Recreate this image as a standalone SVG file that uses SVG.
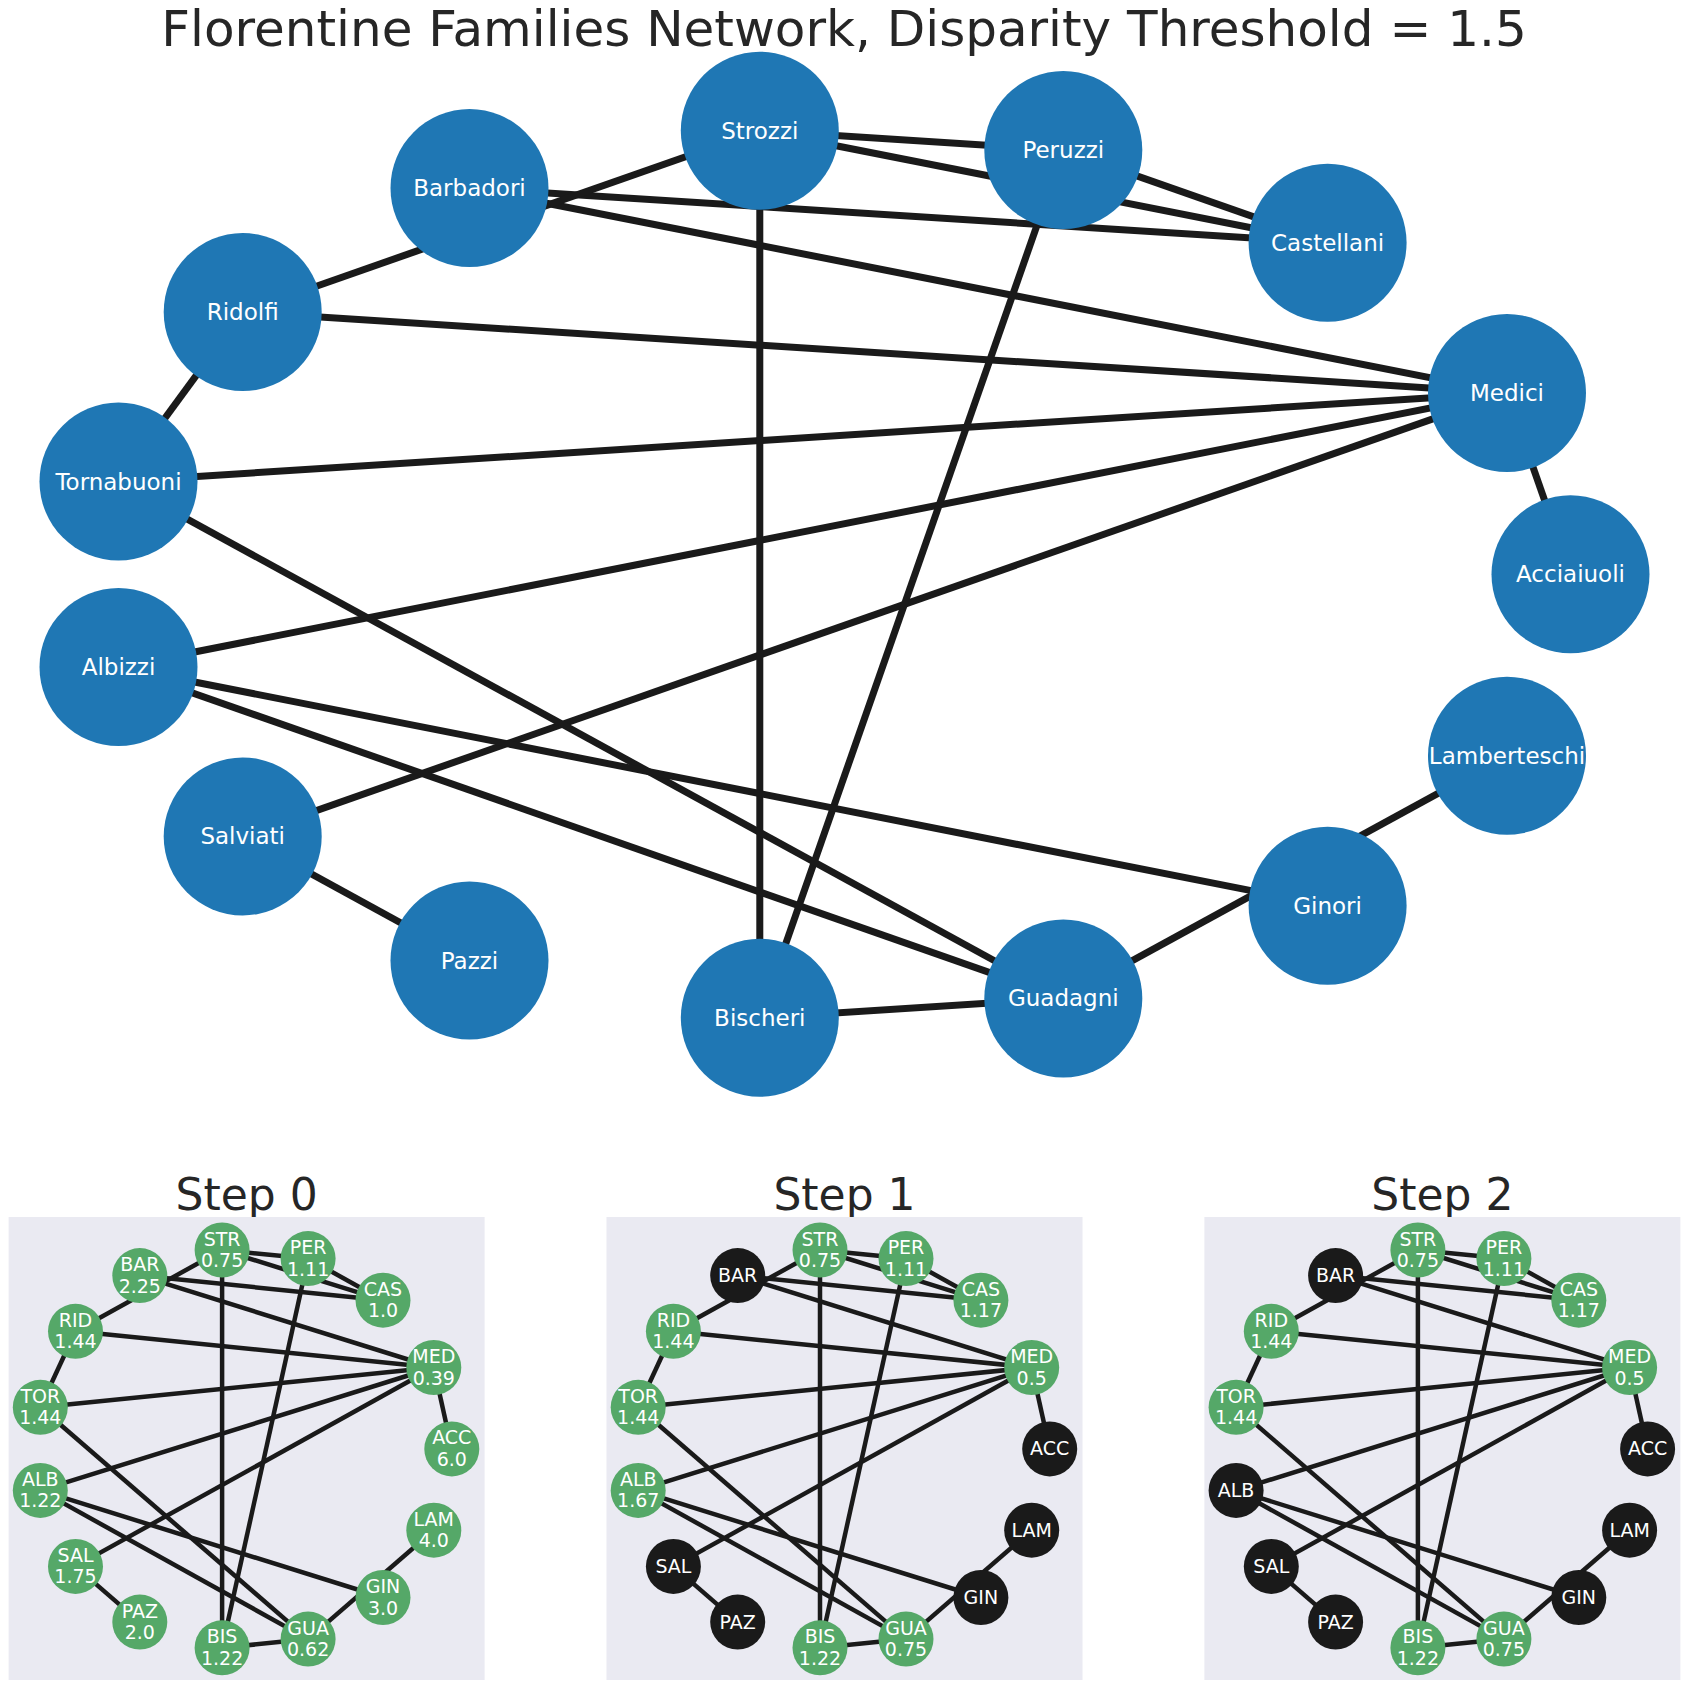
<svg xmlns="http://www.w3.org/2000/svg" width="1688" height="1689" viewBox="0 0 1688 1689">
<style>
text{font-family:"DejaVu Sans","Liberation Sans",sans-serif}
.title{font-size:50px;fill:#262626;text-anchor:middle}
.stitle{font-size:44px;fill:#262626;text-anchor:middle}
.me line{stroke:#1a1a1a;stroke-width:7}
.se line{stroke:#1a1a1a;stroke-width:4.5}
.mn circle{fill:#1f77b4}
.mn text{fill:#fff;font-size:23px;text-anchor:middle}
.g circle{fill:#55a868}
.k circle{fill:#1a1a1a}
.sn text{fill:#fff;font-size:19px;text-anchor:middle}
.ax{fill:#eaeaf2}
</style>
<rect width="1688" height="1689" fill="#fff"/>
<text class="title" x="844" y="46">Florentine Families Network, Disparity Threshold = 1.5</text>

<g id="main-edges" class="me">
<line x1="1570.5" y1="574.3" x2="1507" y2="392.9"/>
<line x1="1507" y1="392.9" x2="469.5" y2="188"/>
<line x1="1507" y1="392.9" x2="242.7" y2="312.1"/>
<line x1="1507" y1="392.9" x2="118.5" y2="481.5"/>
<line x1="1507" y1="392.9" x2="118.5" y2="667"/>
<line x1="1507" y1="392.9" x2="242.7" y2="836.4"/>
<line x1="1327.6" y1="242.8" x2="1063.3" y2="150.1"/>
<line x1="1327.6" y1="242.8" x2="759.8" y2="130.7"/>
<line x1="1327.6" y1="242.8" x2="469.5" y2="188"/>
<line x1="1063.3" y1="150.1" x2="759.8" y2="130.7"/>
<line x1="1063.3" y1="150.1" x2="759.8" y2="1017.8"/>
<line x1="759.8" y1="130.7" x2="242.7" y2="312.1"/>
<line x1="759.8" y1="130.7" x2="759.8" y2="1017.8"/>
<line x1="242.7" y1="312.1" x2="118.5" y2="481.5"/>
<line x1="118.5" y1="481.5" x2="1063.3" y2="998.4"/>
<line x1="118.5" y1="667" x2="1327.6" y2="905.7"/>
<line x1="118.5" y1="667" x2="1063.3" y2="998.4"/>
<line x1="242.7" y1="836.4" x2="469.5" y2="960.5"/>
<line x1="759.8" y1="1017.8" x2="1063.3" y2="998.4"/>
<line x1="1063.3" y1="998.4" x2="1507" y2="755.7"/>
</g>
<g class="mn">
<g id="Acciaiuoli"><circle cx="1570.5" cy="574.3" r="79"/><text x="1570.5" y="582.3">Acciaiuoli</text></g>
<g id="Medici"><circle cx="1507" cy="392.9" r="79"/><text x="1507" y="400.9">Medici</text></g>
<g id="Castellani"><circle cx="1327.6" cy="242.8" r="79"/><text x="1327.6" y="250.8">Castellani</text></g>
<g id="Peruzzi"><circle cx="1063.3" cy="150.1" r="79"/><text x="1063.3" y="158.1">Peruzzi</text></g>
<g id="Strozzi"><circle cx="759.8" cy="130.7" r="79"/><text x="759.8" y="138.7">Strozzi</text></g>
<g id="Barbadori"><circle cx="469.5" cy="188" r="79"/><text x="469.5" y="196">Barbadori</text></g>
<g id="Ridolfi"><circle cx="242.7" cy="312.1" r="79"/><text x="242.7" y="320.1">Ridolfi</text></g>
<g id="Tornabuoni"><circle cx="118.5" cy="481.5" r="79"/><text x="118.5" y="489.5">Tornabuoni</text></g>
<g id="Albizzi"><circle cx="118.5" cy="667" r="79"/><text x="118.5" y="675">Albizzi</text></g>
<g id="Salviati"><circle cx="242.7" cy="836.4" r="79"/><text x="242.7" y="844.4">Salviati</text></g>
<g id="Pazzi"><circle cx="469.5" cy="960.5" r="79"/><text x="469.5" y="968.5">Pazzi</text></g>
<g id="Bischeri"><circle cx="759.8" cy="1017.8" r="79"/><text x="759.8" y="1025.8">Bischeri</text></g>
<g id="Guadagni"><circle cx="1063.3" cy="998.4" r="79"/><text x="1063.3" y="1006.4">Guadagni</text></g>
<g id="Ginori"><circle cx="1327.6" cy="905.7" r="79"/><text x="1327.6" y="913.7">Ginori</text></g>
<g id="Lamberteschi"><circle cx="1507" cy="755.7" r="79"/><text x="1507" y="763.7">Lamberteschi</text></g>
</g>

<defs>
<g id="small-edges" class="se">
<line x1="451.8" y1="1448.9" x2="433.8" y2="1367.5"/>
<line x1="433.8" y1="1367.5" x2="139.8" y2="1275.6"/>
<line x1="433.8" y1="1367.5" x2="75.5" y2="1331.3"/>
<line x1="433.8" y1="1367.5" x2="40.3" y2="1407.3"/>
<line x1="433.8" y1="1367.5" x2="40.3" y2="1490.4"/>
<line x1="433.8" y1="1367.5" x2="75.5" y2="1566.4"/>
<line x1="383" y1="1300.2" x2="308.1" y2="1258.6"/>
<line x1="383" y1="1300.2" x2="222.1" y2="1250"/>
<line x1="383" y1="1300.2" x2="139.8" y2="1275.6"/>
<line x1="308.1" y1="1258.6" x2="222.1" y2="1250"/>
<line x1="308.1" y1="1258.6" x2="222.1" y2="1647.8"/>
<line x1="222.1" y1="1250" x2="75.5" y2="1331.3"/>
<line x1="222.1" y1="1250" x2="222.1" y2="1647.8"/>
<line x1="75.5" y1="1331.3" x2="40.3" y2="1407.3"/>
<line x1="40.3" y1="1407.3" x2="308.1" y2="1639.1"/>
<line x1="40.3" y1="1490.4" x2="383" y2="1597.5"/>
<line x1="40.3" y1="1490.4" x2="308.1" y2="1639.1"/>
<line x1="75.5" y1="1566.4" x2="139.8" y2="1622.1"/>
<line x1="222.1" y1="1647.8" x2="308.1" y2="1639.1"/>
<line x1="308.1" y1="1639.1" x2="433.8" y2="1530.2"/>
</g>
</defs>

<!-- Step 0 -->
<g id="step0">
<text class="stitle" x="246.6" y="1210">Step 0</text>
<rect class="ax" x="8.6" y="1217" width="476" height="463"/>
<g id="s0-connectors"><use href="#small-edges"/></g>
<g class="sn">
<g id="s0-ACC" class="g"><circle cx="451.8" cy="1448.9" r="27.5"/><text x="451.8" y="1444.4">ACC</text><text x="451.8" y="1465.9">6.0</text></g>
<g id="s0-MED" class="g"><circle cx="433.8" cy="1367.5" r="27.5"/><text x="433.8" y="1363">MED</text><text x="433.8" y="1384.5">0.39</text></g>
<g id="s0-CAS" class="g"><circle cx="383" cy="1300.2" r="27.5"/><text x="383" y="1295.7">CAS</text><text x="383" y="1317.2">1.0</text></g>
<g id="s0-PER" class="g"><circle cx="308.1" cy="1258.6" r="27.5"/><text x="308.1" y="1254.1">PER</text><text x="308.1" y="1275.6">1.11</text></g>
<g id="s0-STR" class="g"><circle cx="222.1" cy="1250" r="27.5"/><text x="222.1" y="1245.5">STR</text><text x="222.1" y="1267">0.75</text></g>
<g id="s0-BAR" class="g"><circle cx="139.8" cy="1275.6" r="27.5"/><text x="139.8" y="1271.1">BAR</text><text x="139.8" y="1292.6">2.25</text></g>
<g id="s0-RID" class="g"><circle cx="75.5" cy="1331.3" r="27.5"/><text x="75.5" y="1326.8">RID</text><text x="75.5" y="1348.3">1.44</text></g>
<g id="s0-TOR" class="g"><circle cx="40.3" cy="1407.3" r="27.5"/><text x="40.3" y="1402.8">TOR</text><text x="40.3" y="1424.3">1.44</text></g>
<g id="s0-ALB" class="g"><circle cx="40.3" cy="1490.4" r="27.5"/><text x="40.3" y="1485.9">ALB</text><text x="40.3" y="1507.4">1.22</text></g>
<g id="s0-SAL" class="g"><circle cx="75.5" cy="1566.4" r="27.5"/><text x="75.5" y="1561.9">SAL</text><text x="75.5" y="1583.4">1.75</text></g>
<g id="s0-PAZ" class="g"><circle cx="139.8" cy="1622.1" r="27.5"/><text x="139.8" y="1617.6">PAZ</text><text x="139.8" y="1639.1">2.0</text></g>
<g id="s0-BIS" class="g"><circle cx="222.1" cy="1647.8" r="27.5"/><text x="222.1" y="1643.3">BIS</text><text x="222.1" y="1664.8">1.22</text></g>
<g id="s0-GUA" class="g"><circle cx="308.1" cy="1639.1" r="27.5"/><text x="308.1" y="1634.6">GUA</text><text x="308.1" y="1656.1">0.62</text></g>
<g id="s0-GIN" class="g"><circle cx="383" cy="1597.5" r="27.5"/><text x="383" y="1593">GIN</text><text x="383" y="1614.5">3.0</text></g>
<g id="s0-LAM" class="g"><circle cx="433.8" cy="1530.2" r="27.5"/><text x="433.8" y="1525.7">LAM</text><text x="433.8" y="1547.2">4.0</text></g>
</g>
</g>

<!-- Step 1 -->
<g id="step1" transform="translate(597.9,0)">
<text class="stitle" x="246.6" y="1210">Step 1</text>
<rect class="ax" x="8.6" y="1217" width="476" height="463"/>
<g id="s1-connectors"><use href="#small-edges"/></g>
<g class="sn">
<g id="s1-ACC" class="k"><circle cx="451.8" cy="1448.9" r="27.5"/><text x="451.8" y="1455.4">ACC</text></g>
<g id="s1-MED" class="g"><circle cx="433.8" cy="1367.5" r="27.5"/><text x="433.8" y="1363">MED</text><text x="433.8" y="1384.5">0.5</text></g>
<g id="s1-CAS" class="g"><circle cx="383" cy="1300.2" r="27.5"/><text x="383" y="1295.7">CAS</text><text x="383" y="1317.2">1.17</text></g>
<g id="s1-PER" class="g"><circle cx="308.1" cy="1258.6" r="27.5"/><text x="308.1" y="1254.1">PER</text><text x="308.1" y="1275.6">1.11</text></g>
<g id="s1-STR" class="g"><circle cx="222.1" cy="1250" r="27.5"/><text x="222.1" y="1245.5">STR</text><text x="222.1" y="1267">0.75</text></g>
<g id="s1-BAR" class="k"><circle cx="139.8" cy="1275.6" r="27.5"/><text x="139.8" y="1282.1">BAR</text></g>
<g id="s1-RID" class="g"><circle cx="75.5" cy="1331.3" r="27.5"/><text x="75.5" y="1326.8">RID</text><text x="75.5" y="1348.3">1.44</text></g>
<g id="s1-TOR" class="g"><circle cx="40.3" cy="1407.3" r="27.5"/><text x="40.3" y="1402.8">TOR</text><text x="40.3" y="1424.3">1.44</text></g>
<g id="s1-ALB" class="g"><circle cx="40.3" cy="1490.4" r="27.5"/><text x="40.3" y="1485.9">ALB</text><text x="40.3" y="1507.4">1.67</text></g>
<g id="s1-SAL" class="k"><circle cx="75.5" cy="1566.4" r="27.5"/><text x="75.5" y="1572.9">SAL</text></g>
<g id="s1-PAZ" class="k"><circle cx="139.8" cy="1622.1" r="27.5"/><text x="139.8" y="1628.6">PAZ</text></g>
<g id="s1-BIS" class="g"><circle cx="222.1" cy="1647.8" r="27.5"/><text x="222.1" y="1643.3">BIS</text><text x="222.1" y="1664.8">1.22</text></g>
<g id="s1-GUA" class="g"><circle cx="308.1" cy="1639.1" r="27.5"/><text x="308.1" y="1634.6">GUA</text><text x="308.1" y="1656.1">0.75</text></g>
<g id="s1-GIN" class="k"><circle cx="383" cy="1597.5" r="27.5"/><text x="383" y="1604">GIN</text></g>
<g id="s1-LAM" class="k"><circle cx="433.8" cy="1530.2" r="27.5"/><text x="433.8" y="1536.7">LAM</text></g>
</g>
</g>

<!-- Step 2 -->
<g id="step2" transform="translate(1195.8,0)">
<text class="stitle" x="246.6" y="1210">Step 2</text>
<rect class="ax" x="8.6" y="1217" width="476" height="463"/>
<g id="s2-connectors"><use href="#small-edges"/></g>
<g class="sn">
<g id="s2-ACC" class="k"><circle cx="451.8" cy="1448.9" r="27.5"/><text x="451.8" y="1455.4">ACC</text></g>
<g id="s2-MED" class="g"><circle cx="433.8" cy="1367.5" r="27.5"/><text x="433.8" y="1363">MED</text><text x="433.8" y="1384.5">0.5</text></g>
<g id="s2-CAS" class="g"><circle cx="383" cy="1300.2" r="27.5"/><text x="383" y="1295.7">CAS</text><text x="383" y="1317.2">1.17</text></g>
<g id="s2-PER" class="g"><circle cx="308.1" cy="1258.6" r="27.5"/><text x="308.1" y="1254.1">PER</text><text x="308.1" y="1275.6">1.11</text></g>
<g id="s2-STR" class="g"><circle cx="222.1" cy="1250" r="27.5"/><text x="222.1" y="1245.5">STR</text><text x="222.1" y="1267">0.75</text></g>
<g id="s2-BAR" class="k"><circle cx="139.8" cy="1275.6" r="27.5"/><text x="139.8" y="1282.1">BAR</text></g>
<g id="s2-RID" class="g"><circle cx="75.5" cy="1331.3" r="27.5"/><text x="75.5" y="1326.8">RID</text><text x="75.5" y="1348.3">1.44</text></g>
<g id="s2-TOR" class="g"><circle cx="40.3" cy="1407.3" r="27.5"/><text x="40.3" y="1402.8">TOR</text><text x="40.3" y="1424.3">1.44</text></g>
<g id="s2-ALB" class="k"><circle cx="40.3" cy="1490.4" r="27.5"/><text x="40.3" y="1496.9">ALB</text></g>
<g id="s2-SAL" class="k"><circle cx="75.5" cy="1566.4" r="27.5"/><text x="75.5" y="1572.9">SAL</text></g>
<g id="s2-PAZ" class="k"><circle cx="139.8" cy="1622.1" r="27.5"/><text x="139.8" y="1628.6">PAZ</text></g>
<g id="s2-BIS" class="g"><circle cx="222.1" cy="1647.8" r="27.5"/><text x="222.1" y="1643.3">BIS</text><text x="222.1" y="1664.8">1.22</text></g>
<g id="s2-GUA" class="g"><circle cx="308.1" cy="1639.1" r="27.5"/><text x="308.1" y="1634.6">GUA</text><text x="308.1" y="1656.1">0.75</text></g>
<g id="s2-GIN" class="k"><circle cx="383" cy="1597.5" r="27.5"/><text x="383" y="1604">GIN</text></g>
<g id="s2-LAM" class="k"><circle cx="433.8" cy="1530.2" r="27.5"/><text x="433.8" y="1536.7">LAM</text></g>
</g>
</g>
</svg>
